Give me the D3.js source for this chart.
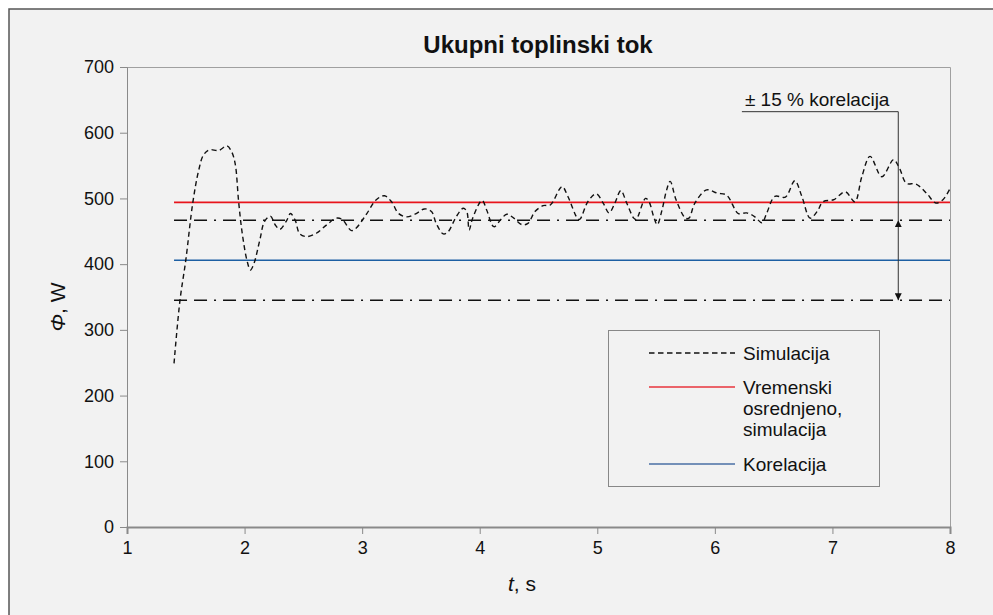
<!DOCTYPE html>
<html>
<head>
<meta charset="utf-8">
<script src="https://cdn.jsdelivr.net/npm/d3@7"></script>
<style>
  body { margin: 0; background: #fff; }
  text { font-family: "Liberation Sans", Arial, Helvetica, sans-serif; fill: #111; }
</style>
</head>
<body>
<svg id="chart" width="993" height="615"></svg>
<script>
// Simulated total heat flow over time
const simTime = [1.40, 1.45, 1.50, 1.56, 1.61, 1.65, 1.70, 1.78, 1.85, 1.89, 1.92, 1.95, 1.98, 2.02, 2.05, 2.08,
  2.13, 2.17, 2.22, 2.26, 2.30, 2.36, 2.39, 2.43, 2.47, 2.53, 2.61, 2.70, 2.78, 2.83, 2.91, 2.95,
  3.04, 3.12, 3.19, 3.25, 3.31, 3.38, 3.46, 3.53, 3.59, 3.63, 3.69, 3.73, 3.80, 3.86, 3.89, 3.91,
  3.94, 4.02, 4.06, 4.12, 4.18, 4.23, 4.29, 4.36, 4.41, 4.47, 4.54, 4.60, 4.70, 4.75, 4.83, 4.85,
  4.92, 4.99, 5.05, 5.10, 5.15, 5.20, 5.25, 5.31, 5.33, 5.41, 5.44, 5.48, 5.51, 5.55, 5.59, 5.62,
  5.67, 5.75, 5.78, 5.83, 5.93, 6.02, 6.10, 6.20, 6.27, 6.34, 6.40, 6.44, 6.51, 6.60, 6.68, 6.74,
  6.81, 6.87, 6.92, 7.01, 7.11, 7.19, 7.25, 7.32, 7.42, 7.52, 7.57, 7.63, 7.71, 7.80, 7.88, 7.94, 8.00];
const simFlux = [249, 344, 406, 494, 543, 566, 574, 573, 580, 571, 553, 494, 447, 406, 391, 401,
  437, 465, 473, 460, 453, 467, 477, 467, 446, 442, 447, 460, 470, 468, 451, 455,
  477, 498, 504, 495, 477, 472, 477, 484, 480, 462, 446, 449, 472, 485, 480, 452,
  470, 497, 482, 457, 468, 476, 470, 460, 462, 480, 489, 490, 518, 503, 470, 468,
  495, 507, 493, 478, 493, 512, 493, 470, 468, 500, 495, 472, 460, 482, 513, 526,
  498, 470, 470, 493, 513, 508, 505, 477, 478, 472, 463, 477, 503, 502, 527, 503,
  470, 480, 495, 498, 510, 495, 533, 564, 533, 559, 546, 523, 522, 508, 493, 498, 515];

// Reference levels
const timeAveraged = 494;      // time-averaged simulation
const correlation = 406;       // correlation value
const tolerance = 0.15;        // ±15 % band around the correlation
const levelStart = 1.4;
const levelEnd = 8;
const arrowTime = 7.56;
const labelStartTime = 6.23;
const labelLevel = 632;

const xTickValues = [1, 2, 3, 4, 5, 6, 7, 8];
const yTickValues = [0, 100, 200, 300, 400, 500, 600, 700];

const titleText = "Ukupni toplinski tok";
const legendLabels = ["Simulacija", ["Vremenski", "osrednjeno,", "simulacija"], "Korelacija"];
const bandLabel = "± 15 % korelacija";

const svg = d3.select("#chart");
const plot = { left: 127, right: 950, top: 67, bottom: 527 };

// figure background and frame
svg.append("rect").attr("x", 9).attr("y", 9).attr("width", 1000).attr("height", 620)
  .attr("fill", "#f2f2f2").attr("stroke", "#555").attr("stroke-width", 1.5);

const x = d3.scaleLinear().domain([1, 8]).range([plot.left, plot.right]);
const y = d3.scaleLinear().domain([0, 700]).range([plot.bottom, plot.top]);

// plot frame (top and right)
svg.append("path")
  .attr("d", `M${plot.left},${plot.top + 0.5}H${plot.right + 0.5}V${plot.bottom}`)
  .attr("fill", "none").attr("stroke", "#a0a0a0").attr("stroke-width", 1);

// axes
const yAxis = svg.append("g").attr("transform", `translate(${plot.left},0)`)
  .call(d3.axisLeft(y).tickValues(yTickValues).tickSize(7).tickPadding(6));
yAxis.select(".domain").attr("stroke", "#8a8a8a");
yAxis.selectAll(".tick line").attr("stroke", "#8a8a8a");
yAxis.selectAll(".tick text").style("font-size", "18px").attr("fill", "#111");

const xAxis = svg.append("g").attr("transform", `translate(0,${plot.bottom})`)
  .call(d3.axisBottom(x).tickValues(xTickValues).tickFormat(d3.format("d")).tickSize(7).tickPadding(7));
xAxis.select(".domain").attr("stroke", "#8a8a8a").attr("stroke-width", 2);
xAxis.selectAll(".tick line").attr("stroke", "#8a8a8a");
xAxis.selectAll(".tick text").style("font-size", "18px").attr("fill", "#111");

// horizontal reference levels
const levels = [
  { v: correlation * (1 + tolerance), color: "#111", dash: "13,7,13,7,2,7", w: 1.5 },
  { v: correlation * (1 - tolerance), color: "#111", dash: "13,7,13,7,2,7", w: 1.5 },
  { v: timeAveraged, color: "#e8141c", dash: null, w: 1.6 },
  { v: correlation, color: "#1d5fa3", dash: null, w: 1.4 }
];
svg.append("g").selectAll("line").data(levels).join("line")
  .attr("x1", x(levelStart)).attr("x2", x(levelEnd))
  .attr("y1", d => y(d.v)).attr("y2", d => y(d.v))
  .attr("stroke", d => d.color).attr("stroke-width", d => d.w)
  .attr("stroke-dasharray", d => d.dash);

// simulation curve
const simData = simTime.map((t, i) => [t, simFlux[i]]);
svg.append("path").datum(simData)
  .attr("fill", "none").attr("stroke", "#111").attr("stroke-width", 1.4)
  .attr("stroke-dasharray", "5,3.5")
  .attr("d", d3.line().x(d => x(d[0])).y(d => y(d[1])).curve(d3.curveCatmullRom.alpha(0.5)));

// ±15 % annotation
const defs = svg.append("defs");
defs.append("marker").attr("id", "arr").attr("viewBox", "0 0 10 10")
  .attr("refX", 10).attr("refY", 5).attr("markerWidth", 7).attr("markerHeight", 7)
  .attr("orient", "auto-start-reverse").attr("markerUnits", "userSpaceOnUse")
  .append("path").attr("d", "M0,0L10,5L0,10Z").attr("fill", "#111");

const ax = x(arrowTime);
svg.append("path")
  .attr("d", `M${x(labelStartTime)},${y(labelLevel)}H${ax}V${y(correlation * (1 + tolerance))}`)
  .attr("fill", "none").attr("stroke", "#333").attr("stroke-width", 1);
svg.append("line")
  .attr("x1", ax).attr("x2", ax)
  .attr("y1", y(correlation * (1 + tolerance))).attr("y2", y(correlation * (1 - tolerance)))
  .attr("stroke", "#333").attr("stroke-width", 1)
  .attr("marker-start", "url(#arr)").attr("marker-end", "url(#arr)");
svg.append("text").attr("x", x(labelStartTime) + 3).attr("y", y(labelLevel) - 6)
  .style("font-size", "19px").text(bandLabel);

// title
svg.append("text").attr("x", 538).attr("y", 53).attr("text-anchor", "middle")
  .style("font-size", "24px").style("font-weight", "bold").text(titleText);

// axis titles
const yl = svg.append("text").attr("transform", "translate(65,307) rotate(-90)")
  .attr("text-anchor", "middle").style("font-size", "21px");
yl.append("tspan").style("font-style", "italic").text("Φ");
yl.append("tspan").text(", W");

const xl = svg.append("text").attr("x", 522).attr("y", 591)
  .attr("text-anchor", "middle").style("font-size", "21px");
xl.append("tspan").style("font-style", "italic").text("t");
xl.append("tspan").text(", s");

// legend
const lg = svg.append("g");
lg.append("rect").attr("x", 608.5).attr("y", 330.5).attr("width", 271).attr("height", 156)
  .attr("fill", "#f2f2f2").attr("stroke", "#888").attr("stroke-width", 1);
const legendItems = [
  { ly: 353, color: "#111", dash: "5.5,3.5", w: 1.4, lines: [legendLabels[0]], ty: 360 },
  { ly: 387, color: "#e8343c", dash: null, w: 1.6, lines: legendLabels[1], ty: 394 },
  { ly: 464, color: "#4a6fa5", dash: null, w: 1.6, lines: [legendLabels[2]], ty: 471 }
];
legendItems.forEach(it => {
  lg.append("line").attr("x1", 649).attr("x2", 735).attr("y1", it.ly).attr("y2", it.ly)
    .attr("stroke", it.color).attr("stroke-width", it.w).attr("stroke-dasharray", it.dash);
  const t = lg.append("text").attr("x", 743).attr("y", it.ty).style("font-size", "19px");
  it.lines.forEach((s, i) => t.append("tspan").attr("x", 743).attr("dy", i === 0 ? 0 : 21).text(s));
});
</script>
</body>
</html>
